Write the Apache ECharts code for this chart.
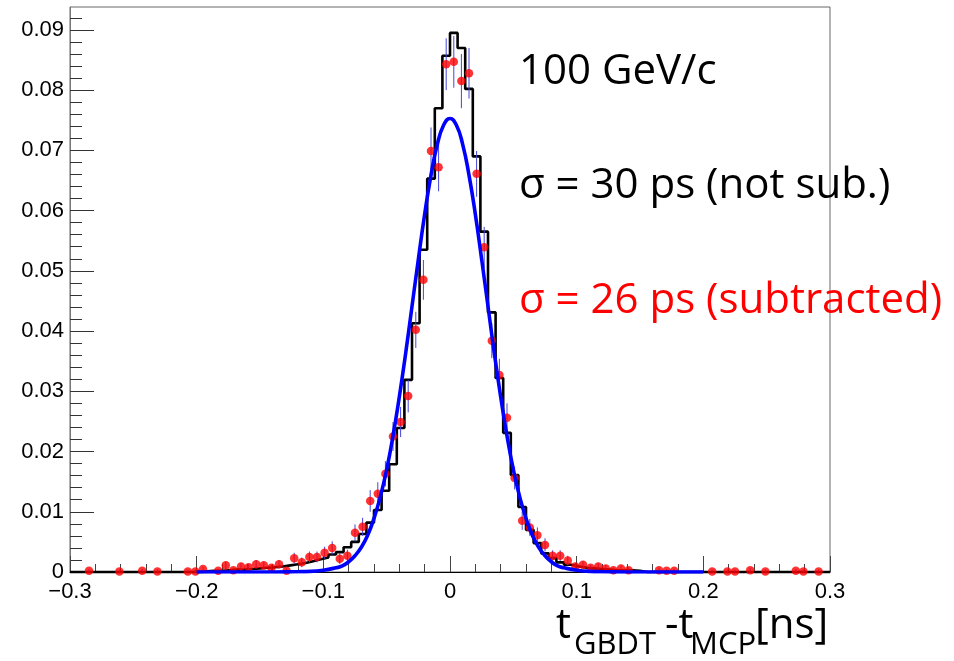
<!DOCTYPE html>
<html>
<head>
<meta charset="utf-8">
<script src="https://cdn.jsdelivr.net/npm/echarts@6/dist/echarts.min.js"></script>
<style>
html,body{margin:0;padding:0;background:#fff;}
#chart{width:954px;height:661px;}
</style>
</head>
<body>
<div id="chart"></div>
<script>
// ---- data ----
const binStart = -0.3;
const binWidth = 0.006;
// black histogram (not subtracted), 100 bins from -0.3 to 0.3
const histCounts = [
  0,0,0,0,0,0,0,0,0,0,
  0,0,0,0,0,0,0,0.0001,0.0002,0.0002,
  0.0003,0.0004,0.0004,0.0005,0.0006,0.0007,0.0008,0.0009,0.0011,0.0013,
  0.0015,0.0018,0.0021,0.0024,0.0029,0.0033,0.0041,0.0050,0.0063,0.0082,
  0.0103,0.0135,0.0179,0.0239,0.0319,0.0413,0.0535,0.0653,0.0770,0.0857,
  0.0895,0.0870,0.0802,0.0690,0.0565,0.0431,0.0322,0.0231,0.0161,0.0108,
  0.0070,0.0048,0.0031,0.0023,0.0016,0.0012,0.0009,0.0007,0.0006,0.0005,
  0.0004,0.0003,0.0003,0.0003,0.0002,0,0,0,0,0,
  0,0,0,0,0,0,0,0,0,0,
  0,0,0,0,0,0,0,0,0,0
];
// red points (subtracted): bin centres, values, errors
const redX = [-0.285,-0.261,-0.243,-0.231,-0.207,-0.201,-0.195,-0.183,-0.177,-0.171,
  -0.165,-0.159,-0.153,-0.147,-0.141,-0.135,-0.129,-0.123,-0.117,-0.111,
  -0.105,-0.099,-0.093,-0.087,-0.081,-0.075,-0.069,-0.063,-0.057,-0.051,
  -0.045,-0.039,-0.033,-0.027,-0.021,-0.015,-0.009,-0.003,0.003,0.009,
  0.015,0.021,0.027,0.033,0.039,0.045,0.051,0.057,0.063,0.069,
  0.075,0.081,0.087,0.093,0.099,0.105,0.111,0.117,0.123,0.129,
  0.135,0.141,0.165,0.171,0.177,0.207,0.219,0.225,0.237,0.249,
  0.273,0.279,0.291];
const redY = [0.0002,0.0001,0.0002,0.0001,0.0001,0.0001,0.0005,0.0002,0.0011,0.0003,
  0.0009,0.0008,0.0013,0.0011,0.0007,0.0013,0.0002,0.0023,0.0016,0.0025,
  0.0025,0.0032,0.0040,0.0022,0.0027,0.0065,0.0075,0.0118,0.0130,0.0163,
  0.0225,0.0249,0.0292,0.0402,0.0485,0.0699,0.0672,0.0843,0.0847,0.0815,
  0.0828,0.0661,0.0539,0.0384,0.0327,0.0256,0.0156,0.0085,0.0074,0.0061,
  0.0045,0.0027,0.0027,0.0019,0.0009,0.0012,0.0007,0.0009,0.0006,0.0003,
  0.0006,0.0003,0.0003,0.0002,0.0002,0.0001,0.0001,0.0001,0.0003,0.0001,
  0.0002,0.0001,0.0001];
const redErr = [0.0003,0.0003,0.0003,0.0003,0.0003,0.0003,0.0004,0.0003,0.0006,0.0004,
  0.0006,0.0005,0.0007,0.0006,0.0005,0.0007,0.0004,0.0009,0.0008,0.0009,
  0.0009,0.0010,0.0011,0.0009,0.0010,0.0014,0.0015,0.0018,0.0019,0.0021,
  0.0024,0.0025,0.0027,0.0030,0.0033,0.0039,0.0040,0.0043,0.0043,0.0045,
  0.0042,0.0038,0.0034,0.0029,0.0027,0.0024,0.0019,0.0015,0.0014,0.0013,
  0.0011,0.0009,0.0009,0.0008,0.0006,0.0006,0.0005,0.0006,0.0005,0.0004,
  0.0005,0.0004,0.0004,0.0003,0.0003,0.0003,0.0003,0.0003,0.0004,0.0003,
  0.0003,0.0003,0.0003];
// blue fitted curve
const fitX = [-0.2,-0.15,-0.12,-0.11,-0.1,-0.09,-0.085,-0.08,-0.075,-0.07,-0.065,-0.06,-0.055,-0.05,-0.045,-0.04,-0.035,-0.03,-0.025,-0.02,-0.015,-0.01,-0.005,
  0,0.005,0.01,0.015,0.02,0.025,0.03,0.035,0.04,0.045,0.05,0.055,0.06,0.065,0.07,0.075,0.08,0.085,0.09,0.1,0.11,0.12,0.15,0.2];
const fitY = [0,0,0.00005,0.0001,0.0003,0.0007,0.0010,0.0017,0.0027,0.0041,0.0061,0.0089,0.0125,0.0170,0.0226,0.0291,0.0363,0.0441,0.0519,0.0594,0.0659,0.0710,0.0742,
  0.0753,0.0742,0.0710,0.0659,0.0594,0.0519,0.0441,0.0363,0.0291,0.0226,0.0170,0.0125,0.0089,0.0061,0.0041,0.0027,0.0017,0.0010,0.0007,0.0003,0.0001,0.00005,0,0];
const yMajorTicks = [0,0.01,0.02,0.03,0.04,0.05,0.06,0.07,0.08,0.09];
const yMinorTicks = [0.002,0.004,0.006,0.008,0.012,0.014,0.016,0.018,0.022,0.024,0.026,0.028,
  0.032,0.034,0.036,0.038,0.042,0.044,0.046,0.048,0.052,0.054,0.056,0.058,0.062,0.064,0.066,0.068,
  0.072,0.074,0.076,0.078,0.082,0.084,0.086,0.088,0.092];
const textLines = ['100 GeV/c', '\u03c3 = 30 ps (not sub.)', '\u03c3 = 26 ps (subtracted)'];
const titleParts = ['t', 'GBDT', '-t', 'MCP', '[ns]'];

// ---- build ----
const histData = histCounts.map((v, i) => [binStart + i * binWidth, v]);
histData.push([binStart + histCounts.length * binWidth, histCounts[histCounts.length - 1]]);
const redData = redX.map((x, i) => [x, redY[i], redErr[i]]);
const fitData = fitX.map((x, i) => [x, fitY[i]]);

const chart = echarts.init(document.getElementById('chart'), null, {renderer: 'canvas'});
const labelFont = 'Liberation Sans';
const bigFont = 'Open Sans';
function fmt(v) {
  const r = Math.round(v * 1000) / 1000;
  if (r === 0) return '0';
  let s = String(r);
  if (r < 0) s = '\u2212' + String(-r);
  return s;
}
function big(txt, left, top, size, color) {
  return {type: 'text', left: left, top: top, style: {text: txt, font: size + 'px "' + bigFont + '"', fill: color}};
}
const option = {
  animation: false,
  grid: {left: 70, right: 124, top: 7, bottom: 89, show: true, borderColor: '#666', borderWidth: 1, backgroundColor: 'transparent'},
  xAxis: {
    type: 'value', min: -0.3, max: 0.3, interval: 0.1,
    axisLine: {show: true, onZero: false, lineStyle: {color: '#000', width: 1}},
    axisTick: {show: true, inside: true, length: 16, lineStyle: {color: '#444'}},
    minorTick: {show: true, splitNumber: 5, length: 8, lineStyle: {color: '#444'}},
    splitLine: {show: false}, minorSplitLine: {show: false},
    axisLabel: {fontFamily: labelFont, fontSize: 22, color: '#000', margin: 9, formatter: fmt, showMinLabel: true, showMaxLabel: true}
  },
  yAxis: [{
    type: 'value', min: 0, max: 0.0938, position: 'left',
    axisLine: {show: true, onZero: false, lineStyle: {color: '#777', width: 1}},
    axisTick: {show: true, inside: true, length: 24, customValues: yMajorTicks, lineStyle: {color: '#333'}},
    splitLine: {show: false},
    axisLabel: {fontFamily: labelFont, fontSize: 22, color: '#000', margin: 6, customValues: yMajorTicks, formatter: fmt}
  }, {
    type: 'value', min: 0, max: 0.0938, position: 'left', offset: 0,
    axisLine: {show: false, onZero: false},
    axisTick: {show: true, inside: true, length: 12, customValues: yMinorTicks, lineStyle: {color: '#333'}},
    splitLine: {show: false},
    axisLabel: {show: false}
  }],
  series: [
    {
      type: 'line', data: histData, step: 'end', showSymbol: false, symbol: 'none',
      lineStyle: {color: '#000', width: 2.6}, z: 2, clip: false
    },
    {
      type: 'custom', data: redData, z: 3,
      renderItem: function (params, api) {
        const x = api.value(0), y = api.value(1), e = api.value(2);
        const p1 = api.coord([x, Math.max(0, y - e)]);
        const p2 = api.coord([x, y + e]);
        return {type: 'line', shape: {x1: p1[0], y1: p1[1], x2: p2[0], y2: p2[1]},
          style: {stroke: '#4646d8', lineWidth: 1}};
      }
    },
    {
      type: 'scatter', data: redData.map(d => [d[0], d[1]]), symbol: 'circle', symbolSize: 8.5,
      itemStyle: {color: '#ff0000'}, z: 4
    },
    {
      type: 'line', data: fitData, smooth: 0.5, showSymbol: false, symbol: 'none',
      lineStyle: {color: '#0000ff', width: 3.6}, z: 5
    }
  ],
  graphic: [
    big(textLines[0], 519, 51, 42, '#000'),
    big(textLines[1], 519, 165, 42, '#000'),
    big(textLines[2], 519, 280, 42, '#ff0000'),
    big(titleParts[0], 556, 605, 42, '#000'),
    big(titleParts[1], 574, 630, 31, '#000'),
    big(titleParts[2], 665, 605, 42, '#000'),
    big(titleParts[3], 690, 630, 31, '#000'),
    big(titleParts[4], 755, 605, 42, '#000')
  ]
};
chart.setOption(option);
</script>
</body>
</html>
